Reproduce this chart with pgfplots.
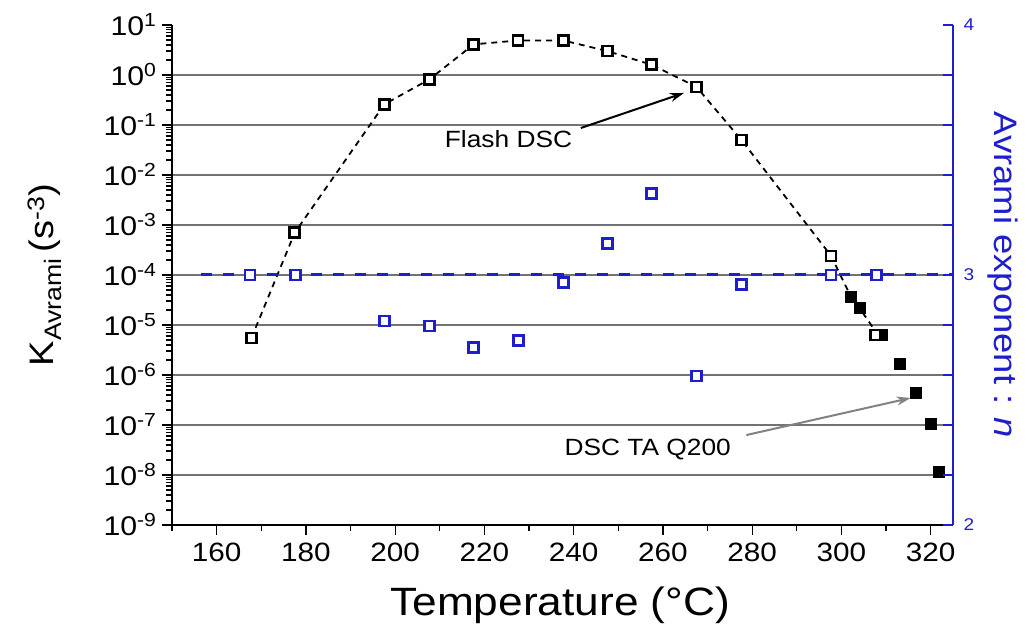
\documentclass[border=0pt]{standalone}
\usepackage{fontspec}
\setmainfont{Liberation Sans}[FakeStretch=1.12]
\usepackage{pgfplots}
\pgfplotsset{compat=1.18}
\usetikzlibrary{arrows.meta}
\definecolor{nblue}{RGB}{30,30,205}
\definecolor{gridgray}{RGB}{115,115,115}
\definecolor{arrgray}{RGB}{130,130,130}

\begin{document}
\begin{tikzpicture}[x=1bp,y=1bp]
\useasboundingbox (0,0) rectangle (1027,626);
\begin{axis}[
  at={(172bp,101bp)}, anchor=south west,
  width=781bp, height=500bp, scale only axis,
  xmin=150, xmax=325, ymin=1e-9, ymax=1e1, ymode=log,
  axis lines*=left,
  axis line style={line width=1.5bp, black},
  tick align=outside,
  major tick length=10bp, minor tick length=6bp,
  every tick/.style={black, line width=1.3bp},
  xtick={160,180,...,320},
  minor xtick={150,170,...,310},
  /pgf/number format/assume math mode=true,
  /pgf/number format/1000 sep={},
  xticklabel style={font=\fontsize{26.5bp}{30bp}\selectfont, yshift=-4bp},
  ytick={1e-8,1e-7,1e-6,1e-5,1e-4,1e-3,1e-2,1e-1,1e0},
  yticklabels={10\textsuperscript{-8},10\textsuperscript{-7},10\textsuperscript{-6},10\textsuperscript{-5},10\textsuperscript{-4},10\textsuperscript{-3},10\textsuperscript{-2},10\textsuperscript{-1},10\textsuperscript{0}},
  extra y ticks={1e-9,1e1},
  extra y tick labels={10\textsuperscript{-9},10\textsuperscript{1}},
  extra y tick style={grid=none},
  minor ytick={2e-9,3e-9,4e-9,5e-9,6e-9,7e-9,8e-9,9e-9,
    2e-8,3e-8,4e-8,5e-8,6e-8,7e-8,8e-8,9e-8,
    2e-7,3e-7,4e-7,5e-7,6e-7,7e-7,8e-7,9e-7,
    2e-6,3e-6,4e-6,5e-6,6e-6,7e-6,8e-6,9e-6,
    2e-5,3e-5,4e-5,5e-5,6e-5,7e-5,8e-5,9e-5,
    2e-4,3e-4,4e-4,5e-4,6e-4,7e-4,8e-4,9e-4,
    2e-3,3e-3,4e-3,5e-3,6e-3,7e-3,8e-3,9e-3,
    2e-2,3e-2,4e-2,5e-2,6e-2,7e-2,8e-2,9e-2,
    2e-1,3e-1,4e-1,5e-1,6e-1,7e-1,8e-1,9e-1,
    2,3,4,5,6,7,8,9},
  yticklabel style={font=\fontsize{27bp}{30bp}\selectfont, xshift=-2bp},
  ymajorgrids,
  major grid style={gridgray, line width=1.4bp},
  xlabel={Temperature (°C)},
  xlabel style={font=\fontsize{39.5bp}{44bp}\selectfont, at={(axis description cs:0.497,-0.16)}, anchor=center},
  ylabel={K\textsubscript{Avrami}\,(s\textsuperscript{-3})},
  ylabel style={font=\fontsize{34bp}{38bp}\selectfont, at={(axis description cs:-0.163,0.5)}, anchor=center},
  clip=false,
]
% Flash DSC dashed connecting line
\addplot[black, line width=1.8bp, dash pattern=on 6bp off 5bp, mark=none] coordinates {
  (167.8,5.5e-6) (177.5,7.0e-4) (197.6,0.26) (207.7,0.82) (217.6,4.1) (227.5,4.9)
  (237.7,4.9) (247.6,3.0) (257.5,1.6) (267.5,0.58) (277.6,0.050) (297.7,2.4e-4)
  (302.1,3.7e-5) (304.1,2.15e-5) (308.2,6.3e-6)};
% DSC TA Q200 (filled squares)
\addplot[only marks, mark=square*, mark size=5.5bp, black, line width=1bp, mark options={solid}] coordinates {
  (302.1,3.7e-5) (304.1,2.15e-5) (309.0,6.3e-6) (313.1,1.63e-6) (316.6,4.3e-7)
  (320.0,1.05e-7) (321.8,1.17e-8)};
% Flash DSC (open squares)
\addplot[only marks, mark=square*, mark size=5bp, black, line width=2.6bp, mark options={solid, fill=white, draw=black}] coordinates {
  (167.8,5.5e-6) (177.5,7.0e-4) (197.6,0.26) (207.7,0.82) (217.6,4.1) (227.5,4.9)
  (237.7,4.9) (247.6,3.0) (257.5,1.6) (267.5,0.58) (277.6,0.050) (297.7,2.4e-4)
  (307.6,6.3e-6)};
\node[font=\fontsize{23.5bp}{26bp}\selectfont] at (axis cs:225.4,0.0525) {Flash DSC};
\draw[-{Stealth[length=14bp,width=9bp]}, line width=2bp, black] (axis cs:241.6,0.087) -- (axis cs:264.7,0.437);
\node[font=\fontsize{23.5bp}{26bp}\selectfont] at (axis cs:256.6,3.3e-8) {DSC TA Q200};
\draw[-{Stealth[length=14bp,width=9bp]}, line width=2bp, arrgray] (axis cs:278.7,6.3e-8) -- (axis cs:315.5,3.47e-7);
\end{axis}
\begin{axis}[
  at={(172bp,101bp)}, anchor=south west,
  width=781bp, height=500bp, scale only axis,
  xmin=150, xmax=325, ymin=2, ymax=4,
  axis y line*=right, axis x line=none,
  y axis line style={nblue, line width=1.6bp},
  tick align=inside,
  major tick length=10bp, minor tick length=10bp,
  every tick/.style={nblue, line width=1.4bp},
  ytick={2,3,4},
  minor ytick={2.2,2.4,2.6,2.8,3.2,3.4,3.6,3.8},
  /pgf/number format/assume math mode=true,
  yticklabel style={nblue, font=\fontsize{17bp}{19bp}\selectfont, xshift=7bp},
  ylabel={Avrami exponent : \textit{n}},
  ylabel style={nblue, font=\fontsize{32.5bp}{36bp}\selectfont, at={(axis description cs:1.064,0.5)}, anchor=center, rotate=180},
  clip=false,
]
\addplot[nblue, line width=3bp, dash pattern=on 11bp off 11bp, mark=none] coordinates {(156.5,3) (325,3)};
\addplot[only marks, mark=square*, mark size=5bp, nblue, line width=2.6bp, mark options={solid, fill=white, draw=nblue}] coordinates {
  (167.5,3.0) (177.7,3.0) (197.6,2.816) (207.7,2.796) (217.6,2.709) (227.7,2.737)
  (237.7,2.971) (247.6,3.127) (257.5,3.327) (267.5,2.596) (277.6,2.963) (297.7,3.0)
  (307.8,3.0)};
\end{axis}
\end{tikzpicture}
\end{document}
